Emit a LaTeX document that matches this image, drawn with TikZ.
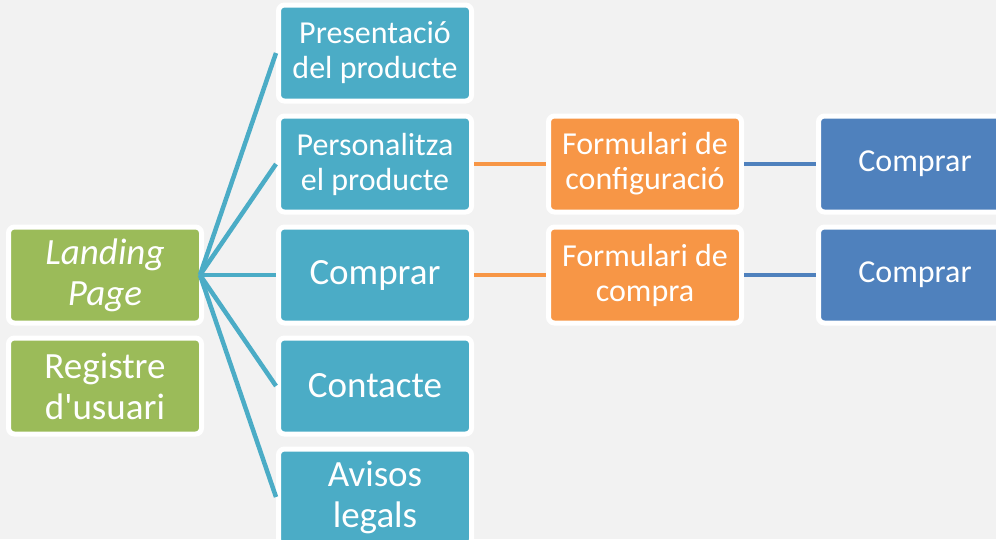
\documentclass[tikz,border=0pt]{standalone}
\usepackage{fontspec}
\setmainfont{Carlito}
\usetikzlibrary{positioning}

\definecolor{fons}{HTML}{F2F2F2}
\definecolor{verd}{HTML}{9BBB59}
\definecolor{blau}{HTML}{4BACC6}
\definecolor{taronja}{HTML}{F79646}
\definecolor{blaufosc}{HTML}{4F81BD}

\begin{document}
\begin{tikzpicture}[x=1pt,y=-1pt,
	caixa/.style={draw=white,line width=5pt,rounded corners=6pt,
		minimum width=193pt,minimum height=96pt,inner sep=0pt,
		text=white,align=center},
	gran/.style={font=\fontsize{37}{41}\selectfont},
	petit/.style={font=\fontsize{32}{35}\selectfont},
	enllac/.style={line width=4.5pt},
	node distance=10pt and 72pt]
	\useasboundingbox (0,0) rectangle (996,539);
	\fill[fons] (0,0) rectangle (996,539);
	\clip (0,0) rectangle (996,539);
	%% columna esquerra
	\node[caixa,gran,fill=verd] (land) at (105,275) {\itshape Landing\\\itshape Page};
	\node[caixa,gran,fill=verd,below=of land] (reg) {Registre\\d\textquotesingle usuari};
	%% columna central
	\node[caixa,gran,fill=blau,right=of land] (comp) {Comprar};
	\node[caixa,petit,fill=blau,above=of comp] (pers) {Personalitza\\el producte};
	\node[caixa,petit,fill=blau,above=of pers] (pres) {Presentació\\del producte};
	\node[caixa,gran,fill=blau,below=of comp] (cont) {Contacte};
	\node[caixa,gran,fill=blau,below=of cont] (avis) {Avisos\\legals};
	%% formularis
	\node[caixa,petit,fill=taronja,right=of pers] (form1) {Formulari de\\configuració};
	\node[caixa,petit,fill=taronja,right=of comp] (form2) {Formulari de\\compra};
	%% compra final
	\node[caixa,petit,fill=blaufosc,right=of form1] (buy1) {Comprar};
	\node[caixa,petit,fill=blaufosc,right=of form2] (buy2) {Comprar};
	% connexions
	\foreach \n in {pres,pers,comp,cont,avis}
		\draw[enllac,blau] ([xshift=-4pt]land.east) -- (\n.west);
	\draw[enllac,taronja] (pers.east) -- (form1.west);
	\draw[enllac,taronja] (comp.east) -- (form2.west);
	\draw[enllac,blaufosc] (form1.east) -- (buy1.west);
	\draw[enllac,blaufosc] (form2.east) -- (buy2.west);
\end{tikzpicture}
\end{document}
